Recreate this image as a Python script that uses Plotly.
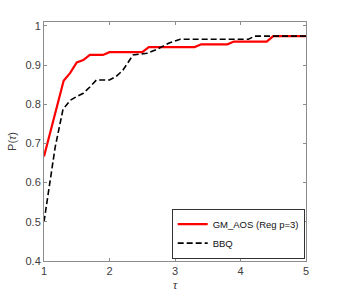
import plotly.graph_objects as go

tau_gm = [1.0, 1.09, 1.19, 1.3, 1.4, 1.5, 1.6, 1.7, 1.9, 2.0, 2.5, 2.6, 3.3, 3.4, 3.8, 3.9, 4.4, 4.5, 5.0]
p_gm = [0.667, 0.727, 0.787, 0.86, 0.88, 0.907, 0.913, 0.926, 0.926, 0.933, 0.933, 0.946, 0.946, 0.953, 0.953, 0.96, 0.96, 0.974, 0.974]

tau_bbq = [1.0, 1.09, 1.17, 1.29, 1.4, 1.5, 1.6, 1.7, 1.8, 2.0, 2.1, 2.2, 2.36, 2.57, 2.72, 2.87, 2.92, 3.08, 4.12, 4.22, 5.0]
p_bbq = [0.5, 0.6, 0.69, 0.787, 0.81, 0.82, 0.828, 0.844, 0.862, 0.862, 0.871, 0.886, 0.926, 0.93, 0.94, 0.953, 0.957, 0.966, 0.966, 0.974, 0.974]

x_ticks = [1, 2, 3, 4, 5]
y_ticks = [0.4, 0.5, 0.6, 0.7, 0.8, 0.9, 1.0]
y_tick_labels = ["0.4", "0.5", "0.6", "0.7", "0.8", "0.9", "1"]

fig = go.Figure()
fig.add_trace(go.Scatter(x=tau_gm, y=p_gm, mode="lines", name="GM_AOS (Reg p=3)",
                         line=dict(color="#ff0000", width=2.2)))
fig.add_trace(go.Scatter(x=tau_bbq, y=p_bbq, mode="lines", name="BBQ",
                         line=dict(color="#000000", width=1.6, dash="6px,3px")))

axis_common = dict(showline=True, linecolor="#8c8c8c", linewidth=1, mirror="ticks",
                   ticks="inside", ticklen=3, tickcolor="#8c8c8c", showgrid=False,
                   zeroline=False, automargin=False,
                   tickfont=dict(family="Liberation Sans, Arial", size=11, color="#404040"))

fig.update_layout(
    width=339, height=295,
    margin=dict(l=44, r=33, t=22, b=34),
    paper_bgcolor="white", plot_bgcolor="white",
    xaxis=dict(range=[1, 5], tickvals=x_ticks, ticktext=[str(v) for v in x_ticks],
               title=dict(text="<i>τ</i>", font=dict(family="Liberation Serif", size=13, color="#404040"), standoff=0),
               **axis_common),
    yaxis=dict(range=[0.4, 1.01], tickvals=y_ticks, ticktext=y_tick_labels,
               title=dict(text="P(<i>τ</i>)", font=dict(family="Liberation Sans, Arial", size=11, color="#404040"), standoff=6),
               **axis_common),
    legend=dict(x=0.995, y=0.01, xanchor="right", yanchor="bottom",
                bgcolor="white", bordercolor="#333333", borderwidth=1,
                font=dict(family="Liberation Sans, Arial", size=9.5, color="#111111"),
                tracegroupgap=0, itemwidth=30),
    showlegend=True,
)

fig.write_html("out.html", config={"displayModeBar": False},
               post_script="document.body.style.margin='0px';document.body.style.overflow='hidden';")
